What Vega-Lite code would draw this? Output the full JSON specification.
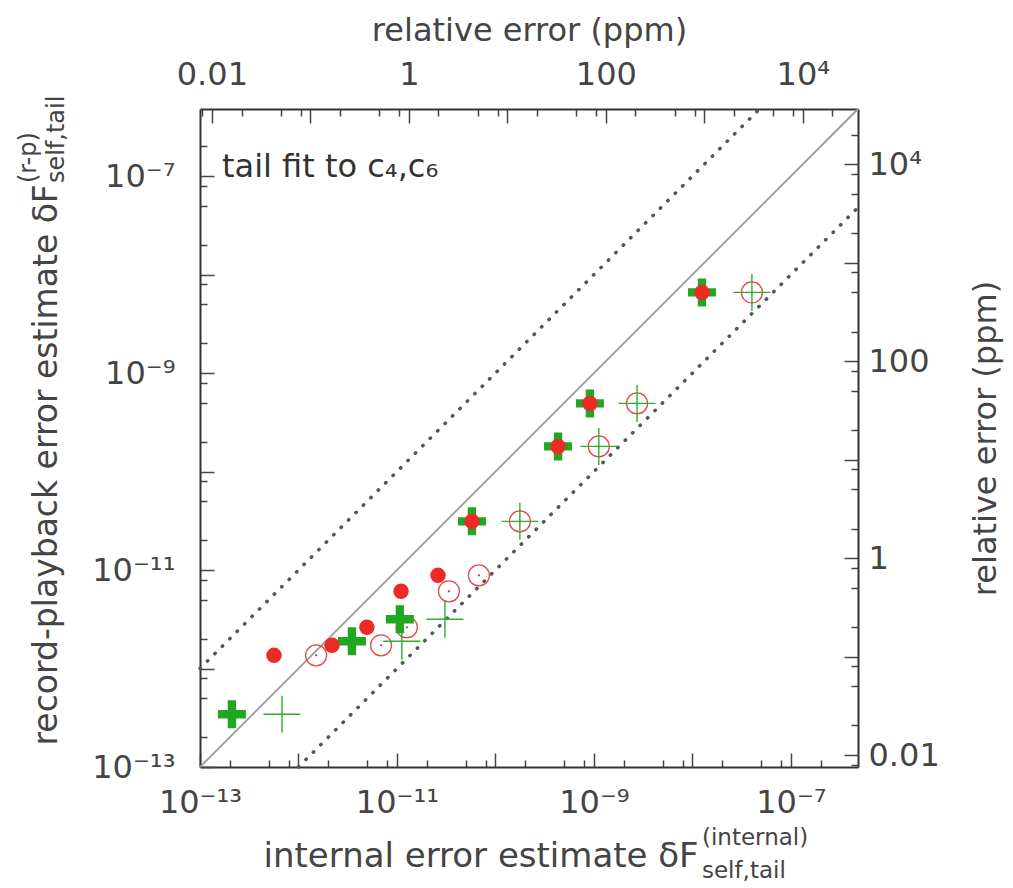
{
  "$schema": "https://vega.github.io/schema/vega-lite/v6.json",
  "usermeta": {"embedOptions": {"actions": false}},
  "width": 658,
  "height": 658,
  "autosize": {"type": "none"},
  "padding": {"left": 200, "top": 109, "right": 155, "bottom": 121},
  "background": "white",
  "config": {"view": {"stroke": null}, "font": "DejaVu Sans"},
  "datasets": {
    "estimates": [
      {"series": "I-a", "x": 5.64e-13, "y": 1.36e-12},
      {"series": "I-a", "x": 2.19e-12, "y": 1.72e-12},
      {"series": "I-a", "x": 4.95e-12, "y": 2.62e-12},
      {"series": "I-a", "x": 1.10e-11, "y": 6.08e-12},
      {"series": "I-a", "x": 2.61e-11, "y": 8.83e-12},
      {"series": "I-a", "x": 5.77e-11, "y": 3.12e-11},
      {"series": "I-a", "x": 4.32e-10, "y": 1.80e-10},
      {"series": "I-a", "x": 9.10e-10, "y": 4.92e-10},
      {"series": "I-a", "x": 1.25e-8, "y": 6.59e-9},
      {"series": "I-b", "x": 1.51e-12, "y": 1.36e-12},
      {"series": "I-b", "x": 6.89e-12, "y": 1.72e-12},
      {"series": "I-b", "x": 1.26e-11, "y": 2.62e-12},
      {"series": "I-b", "x": 3.37e-11, "y": 6.08e-12},
      {"series": "I-b", "x": 6.79e-11, "y": 8.83e-12},
      {"series": "I-b", "x": 1.77e-10, "y": 3.12e-11},
      {"series": "I-b", "x": 1.12e-9, "y": 1.80e-10},
      {"series": "I-b", "x": 2.74e-9, "y": 4.92e-10},
      {"series": "I-b", "x": 4.02e-8, "y": 6.59e-9},
      {"series": "II-a", "x": 2.11e-13, "y": 3.43e-13},
      {"series": "II-a", "x": 3.49e-12, "y": 1.89e-12},
      {"series": "II-a", "x": 1.07e-11, "y": 3.16e-12},
      {"series": "II-a", "x": 5.77e-11, "y": 3.12e-11},
      {"series": "II-a", "x": 4.32e-10, "y": 1.80e-10},
      {"series": "II-a", "x": 9.10e-10, "y": 4.92e-10},
      {"series": "II-a", "x": 1.25e-8, "y": 6.59e-9},
      {"series": "II-b", "x": 6.80e-13, "y": 3.43e-13},
      {"series": "II-b", "x": 1.12e-11, "y": 1.89e-12},
      {"series": "II-b", "x": 3.07e-11, "y": 3.16e-12},
      {"series": "II-b", "x": 1.77e-10, "y": 3.12e-11},
      {"series": "II-b", "x": 1.12e-9, "y": 1.80e-10},
      {"series": "II-b", "x": 2.74e-9, "y": 4.92e-10},
      {"series": "II-b", "x": 4.02e-8, "y": 6.59e-9}
    ],
    "reference_lines": [
      {"ref": "equal", "x": 1e-13, "y": 1e-13},
      {"ref": "equal", "x": 4.8e-7, "y": 4.8e-7},
      {"ref": "times10", "x": 1e-13, "y": 1e-12},
      {"ref": "times10", "x": 4.8e-8, "y": 4.8e-7},
      {"ref": "over10", "x": 1e-12, "y": 1e-13},
      {"ref": "over10", "x": 4.8e-7, "y": 4.8e-8}
    ],
    "annotations": [
      {"role": "note", "label": "tail fit to c₄,c₆", "x": 1.672e-13, "y": 9.77e-8},
      {"role": "xscript", "label": "(internal)", "x": 1.25e-8, "y": 1.61e-14},
      {"role": "xscript", "label": "self,tail", "x": 1.25e-8, "y": 7.46e-15},
      {"role": "yscript", "label": "(r-p)", "x": 2.16e-15, "y": 8.49e-8},
      {"role": "yscript", "label": "self,tail", "x": 4.16e-15, "y": 8.49e-8}
    ]
  },
  "layer": [
    {
      "encoding": {
        "x": {
          "field": "x",
          "type": "quantitative",
          "scale": {"type": "log", "domain": [1e-13, 4.8e-7], "nice": false},
          "axis": {
            "orient": "bottom",
            "grid": false,
            "values": [1e-13, 2e-13, 5e-13, 8e-13, 1e-12, 2e-12, 5e-12, 8e-12, 1e-11, 2e-11, 5e-11, 8e-11, 1e-10, 2e-10, 5e-10, 8e-10, 1e-9, 2e-9, 5e-9, 8e-9, 1e-8, 2e-8, 5e-8, 8e-8, 1e-7, 2e-7],
            "labelExpr": "datum.value == 1e-13 ? '10⁻¹³' : datum.value == 1e-11 ? '10⁻¹¹' : datum.value == 1e-9 ? '10⁻⁹' : datum.value == 1e-7 ? '10⁻⁷' : ''",
            "tickSize": {"condition": {"test": "abs(log(datum.value)/LN10 - round(log(datum.value)/LN10)) < 0.01", "value": -14}, "value": -7},
            "tickColor": "#444",
            "tickWidth": 1.5,
            "domainColor": "#333",
            "domainWidth": 2,
            "labelFont": "DejaVu Sans",
            "labelFontSize": 32,
            "labelColor": "#444",
            "labelPadding": 34,
            "labelOverlap": false,
            "labelFlush": false,
            "labelBound": false,
            "title": "internal error estimate δF",
            "titleFont": "DejaVu Sans",
            "titleFontSize": 34,
            "titleFontWeight": "normal",
            "titleColor": "#444",
            "titleAlign": "left",
            "titleBaseline": "alphabetic",
            "titleX": 63,
            "titleY": 99
          }
        },
        "y": {
          "field": "y",
          "type": "quantitative",
          "scale": {"type": "log", "domain": [1e-13, 4.8e-7], "nice": false},
          "axis": {
            "orient": "left",
            "grid": false,
            "values": [1e-13, 2e-13, 5e-13, 8e-13, 1e-12, 2e-12, 5e-12, 8e-12, 1e-11, 2e-11, 5e-11, 8e-11, 1e-10, 2e-10, 5e-10, 8e-10, 1e-9, 2e-9, 5e-9, 8e-9, 1e-8, 2e-8, 5e-8, 8e-8, 1e-7, 2e-7],
            "labelExpr": "datum.value == 1e-13 ? '10⁻¹³' : datum.value == 1e-11 ? '10⁻¹¹' : datum.value == 1e-9 ? '10⁻⁹' : datum.value == 1e-7 ? '10⁻⁷' : ''",
            "tickSize": {"condition": {"test": "abs(log(datum.value)/LN10 - round(log(datum.value)/LN10)) < 0.01", "value": -14}, "value": -7},
            "tickColor": "#444",
            "tickWidth": 1.5,
            "domainColor": "#333",
            "domainWidth": 2,
            "labelFont": "DejaVu Sans",
            "labelFontSize": 32,
            "labelColor": "#444",
            "labelPadding": 39,
            "labelOverlap": false,
            "labelFlush": false,
            "labelBound": false,
            "title": "record-playback error estimate δF",
            "titleFont": "DejaVu Sans",
            "titleFontSize": 33,
            "titleFontWeight": "normal",
            "titleColor": "#444",
            "titleAngle": 270,
            "titleAlign": "left",
            "titleBaseline": "alphabetic",
            "titleX": -144,
            "titleY": 636
          }
        }
      },
      "layer": [
        {
          "data": {"name": "reference_lines"},
          "transform": [{"filter": "datum.ref == 'equal'"}],
          "mark": {"type": "line", "color": "#9a9a9a", "strokeWidth": 1.8},
          "encoding": {"detail": {"field": "ref"}}
        },
        {
          "data": {"name": "reference_lines"},
          "transform": [{"filter": "datum.ref != 'equal'"}],
          "mark": {"type": "line", "color": "#555", "strokeWidth": 3.5, "strokeDash": [0.5, 10], "strokeCap": "round"},
          "encoding": {"detail": {"field": "ref"}}
        },
        {
          "data": {"name": "estimates"},
          "transform": [{"filter": "datum.series == 'I-b'"}],
          "mark": {"type": "point", "shape": "circle", "filled": false, "size": 441, "color": "#e24b4b", "strokeWidth": 1.3, "opacity": 1}
        },
        {
          "data": {"name": "estimates"},
          "transform": [{"filter": "datum.series == 'I-b'"}],
          "mark": {"type": "point", "shape": "circle", "filled": true, "size": 5, "color": "#b04040", "opacity": 1}
        },
        {
          "data": {"name": "estimates"},
          "transform": [{"filter": "datum.series == 'II-b'"}],
          "mark": {"type": "point", "shape": "M-1,0H1M0,-1V1", "filled": false, "size": 1369, "color": "#2eae2e", "strokeWidth": 1.4, "opacity": 1}
        },
        {
          "data": {"name": "estimates"},
          "transform": [{"filter": "datum.series == 'II-a'"}],
          "mark": {"type": "point", "shape": "M-0.3,-1H0.3V-0.3H1V0.3H0.3V1H-0.3V0.3H-1V-0.3H-0.3Z", "filled": true, "size": 784, "color": "#22a622", "strokeWidth": 0, "opacity": 1}
        },
        {
          "data": {"name": "estimates"},
          "transform": [{"filter": "datum.series == 'I-a'"}],
          "mark": {"type": "point", "shape": "circle", "filled": true, "size": 240, "color": "#ec2a26", "strokeWidth": 0, "opacity": 1}
        },
        {
          "data": {"name": "annotations"},
          "transform": [{"filter": "datum.role == 'note'"}],
          "mark": {"type": "text", "align": "left", "baseline": "alphabetic", "fontSize": 32, "font": "DejaVu Sans", "color": "#333"},
          "encoding": {"text": {"field": "label"}}
        },
        {
          "data": {"name": "annotations"},
          "transform": [{"filter": "datum.role == 'xscript'"}],
          "mark": {"type": "text", "align": "left", "baseline": "alphabetic", "fontSize": 23, "font": "DejaVu Sans", "color": "#444"},
          "encoding": {"text": {"field": "label"}}
        },
        {
          "data": {"name": "annotations"},
          "transform": [{"filter": "datum.role == 'yscript'"}],
          "mark": {"type": "text", "angle": 270, "align": "left", "baseline": "alphabetic", "fontSize": 24, "font": "DejaVu Sans", "color": "#444"},
          "encoding": {"text": {"field": "label"}}
        }
      ]
    },
    {
      "data": {"values": [{"ppm": 1}]},
      "mark": {"type": "point", "opacity": 0},
      "encoding": {
        "x": {
          "field": "ppm",
          "type": "quantitative",
          "scale": {"type": "log", "domain": [0.0075758, 36363.6], "nice": false},
          "axis": {
            "orient": "top",
            "grid": false,
            "values": [0.008, 0.01, 0.02, 0.05, 0.08, 0.1, 0.2, 0.5, 0.8, 1, 2, 5, 8, 10, 20, 50, 80, 100, 200, 500, 800, 1000, 2000, 5000, 8000, 10000, 20000],
            "labelExpr": "datum.value == 0.01 ? '0.01' : datum.value == 1 ? '1' : datum.value == 100 ? '100' : datum.value == 10000 ? '10⁴' : ''",
            "tickSize": {"condition": {"test": "abs(log(datum.value)/LN10 - round(log(datum.value)/LN10)) < 0.01", "value": -14}, "value": -7},
            "tickColor": "#444",
            "tickWidth": 1.5,
            "domainColor": "#333",
            "domainWidth": 2,
            "labelFont": "DejaVu Sans",
            "labelFontSize": 32,
            "labelColor": "#444",
            "labelPadding": 32,
            "labelOverlap": false,
            "labelFlush": false,
            "labelBound": false,
            "title": "relative error (ppm)",
            "titleFont": "DejaVu Sans",
            "titleFontSize": 32,
            "titleFontWeight": "normal",
            "titleColor": "#444",
            "titleAlign": "center",
            "titleBaseline": "alphabetic",
            "titleX": 329,
            "titleY": -69
          }
        },
        "y": {
          "field": "ppm",
          "type": "quantitative",
          "scale": {"type": "log", "domain": [0.0075758, 36363.6], "nice": false},
          "axis": {
            "orient": "right",
            "grid": false,
            "values": [0.008, 0.01, 0.02, 0.05, 0.08, 0.1, 0.2, 0.5, 0.8, 1, 2, 5, 8, 10, 20, 50, 80, 100, 200, 500, 800, 1000, 2000, 5000, 8000, 10000, 20000],
            "labelExpr": "datum.value == 0.01 ? '0.01' : datum.value == 1 ? '1' : datum.value == 100 ? '100' : datum.value == 10000 ? '10⁴' : ''",
            "tickSize": {"condition": {"test": "abs(log(datum.value)/LN10 - round(log(datum.value)/LN10)) < 0.01", "value": -14}, "value": -7},
            "tickColor": "#444",
            "tickWidth": 1.5,
            "domainColor": "#333",
            "domainWidth": 2,
            "labelFont": "DejaVu Sans",
            "labelFontSize": 32,
            "labelColor": "#444",
            "labelPadding": 24,
            "labelOverlap": false,
            "labelFlush": false,
            "labelBound": false,
            "title": "relative error (ppm)",
            "titleFont": "DejaVu Sans",
            "titleFontSize": 32,
            "titleFontWeight": "normal",
            "titleColor": "#444",
            "titleAngle": 270,
            "titleAlign": "center",
            "titleBaseline": "alphabetic",
            "titleX": 137,
            "titleY": 329
          }
        }
      }
    }
  ],
  "resolve": {
    "scale": {"x": "independent", "y": "independent"},
    "axis": {"x": "independent", "y": "independent"}
  }
}
